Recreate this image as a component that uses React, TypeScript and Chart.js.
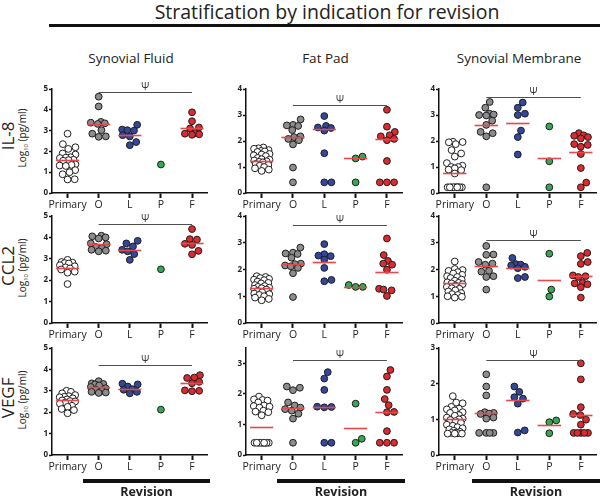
import React, { useEffect, useRef } from "react";
import { Chart, registerables } from "chart.js";
Chart.register(...registerables);

const categories = ["Primary", "O", "L", "P", "F"];
const tissues = ["Synovial Fluid", "Fat Pad", "Synovial Membrane"];
const markers = ["IL-8", "CCL2", "VEGF"];
const groupColors = ["#ffffff", "#8c8c8c", "#33489a", "#35a853", "#dc2a30"];

// ---- IL-8 ----
const sfIL8 = [
  [2.85, 2.35, 2.2, 2.12, 1.9, 1.85, 1.72, 1.7, 1.68, 1.6, 1.58, 1.55, 1.38, 1.35, 1.32, 1.3, 1.1, 1.0, 0.9, 0.66, 0.65],
  [4.63, 4.16, 3.42, 3.38, 3.35, 3.32, 3.02, 2.85, 2.72, 2.7],
  [3.28, 3.05, 3.02, 3.0, 2.78, 2.72, 2.45, 2.3],
  [1.37],
  [3.88, 3.45, 3.15, 3.1, 2.88, 2.85, 2.82, 2.8],
];
const sfIL8Median = [1.58, 3.3, 2.8, null, 3.12];

const fpIL8 = [
  [1.75, 1.72, 1.7, 1.65, 1.62, 1.6, 1.58, 1.5, 1.48, 1.45, 1.42, 1.35, 1.3, 1.28, 1.25, 1.22, 1.2, 1.18, 1.12, 1.08, 1.05, 1.0, 0.95, 0.9, 0.85],
  [2.83, 2.62, 2.6, 2.58, 2.42, 2.18, 2.15, 2.08, 2.03, 1.87, 0.98, 0.41],
  [2.96, 2.58, 2.52, 2.5, 2.4, 1.53, 0.41, 0.41],
  [1.4, 1.33, 0.41],
  [3.2, 2.55, 2.35, 2.22, 2.18, 2.08, 2.03, 1.23, 0.41, 0.41, 0.41],
];
const fpIL8Median = [1.24, 2.16, 2.46, 1.33, 2.08];

const smIL8 = [
  [1.97, 1.96, 1.95, 1.88, 1.65, 1.52, 1.4, 1.15, 1.05, 1.0, 1.0, 0.95, 0.9, 0.88, 0.75, 0.22, 0.22, 0.22, 0.22, 0.22, 0.22, 0.22, 0.22, 0.22, 0.22],
  [3.5, 3.28, 3.05, 3.02, 3.0, 2.98, 2.78, 2.62, 2.35, 2.3, 2.18, 0.22],
  [3.48, 3.28, 3.05, 3.0, 2.4, 2.15, 1.48],
  [2.56, 1.22, 0.22],
  [2.3, 2.22, 2.2, 2.15, 2.1, 1.88, 1.85, 1.78, 1.5, 0.96, 0.4, 0.22],
];
const smIL8Median = [0.78, 2.6, 2.68, 1.33, 1.58];

// ---- CCL2 ----
const sfCCL2 = [
  [2.95, 2.85, 2.82, 2.8, 2.78, 2.7, 2.65, 2.6, 2.55, 2.5, 2.4, 2.35, 1.82],
  [4.08, 4.05, 4.0, 3.95, 3.72, 3.68, 3.55, 3.5, 3.42, 3.38, 3.35],
  [3.84, 3.72, 3.58, 3.42, 3.35, 3.22, 2.95],
  [2.51],
  [4.39, 3.92, 3.9, 3.7, 3.65, 3.37, 3.21],
];
const sfCCL2Median = [2.58, 3.69, 3.42, null, 3.72];

const fpCCL2 = [
  [1.75, 1.72, 1.68, 1.65, 1.62, 1.6, 1.55, 1.5, 1.48, 1.42, 1.38, 1.35, 1.32, 1.3, 1.28, 1.25, 1.2, 1.15, 1.1, 1.08, 1.05, 1.0, 0.95, 0.9, 0.85],
  [2.82, 2.63, 2.6, 2.58, 2.44, 2.22, 2.2, 2.15, 2.12, 2.06, 1.86, 0.97],
  [2.95, 2.57, 2.52, 2.5, 2.37, 2.06, 1.61, 1.56],
  [1.42, 1.35, 1.35],
  [3.16, 2.54, 2.32, 2.22, 2.18, 1.99, 1.28, 1.25, 1.22, 1.01],
];
const fpCCL2Median = [1.3, 2.22, 2.28, 1.35, 1.92];

const smCCL2 = [
  [2.3, 2.02, 1.98, 1.95, 1.9, 1.85, 1.8, 1.75, 1.72, 1.68, 1.62, 1.58, 1.52, 1.5, 1.48, 1.45, 1.4, 1.35, 1.3, 1.28, 1.22, 1.18, 1.12, 1.08, 1.05, 1.0, 0.98, 0.95],
  [2.88, 2.56, 2.55, 2.28, 2.22, 2.18, 1.95, 1.92, 1.75, 1.72, 1.25],
  [2.43, 2.2, 2.18, 2.15, 2.1, 2.05, 1.72, 1.68],
  [2.59, 1.25, 0.99],
  [2.62, 2.5, 2.28, 2.21, 1.78, 1.75, 1.72, 1.5, 1.48, 1.45, 1.34, 0.95],
];
const smCCL2Median = [1.5, 2.13, 2.05, 1.59, 1.76];

// ---- VEGF ----
const sfVEGF = [
  [3.0, 2.95, 2.88, 2.8, 2.75, 2.72, 2.7, 2.65, 2.6, 2.55, 2.52, 2.5, 2.45, 2.4, 2.3, 2.25, 2.15, 2.1, 1.95],
  [3.45, 3.35, 3.32, 3.3, 3.25, 3.18, 3.12, 3.05, 3.0, 2.95, 2.92, 2.9],
  [3.33, 3.3, 3.2, 3.08, 3.05, 2.95, 2.88],
  [2.12],
  [3.73, 3.62, 3.6, 3.42, 3.35, 3.02, 3.0, 2.98],
];
const sfVEGFMedian = [2.55, 3.16, 3.08, null, 3.35];

const fpVEGF = [
  [1.91, 1.82, 1.8, 1.78, 1.72, 1.62, 1.6, 1.58, 1.55, 1.45, 1.42, 1.4, 1.3, 0.4, 0.4, 0.4, 0.4, 0.4, 0.4, 0.4, 0.4, 0.4, 0.4],
  [2.24, 2.2, 2.12, 1.72, 1.62, 1.55, 1.5, 1.45, 1.35, 1.19, 0.4],
  [2.71, 2.5, 2.13, 1.58, 1.57, 1.56, 0.4, 0.4],
  [1.68, 0.53, 0.4],
  [2.78, 2.57, 2.13, 1.83, 1.63, 1.41, 1.4, 0.78, 0.4, 0.4, 0.4],
];
const fpVEGFMedian = [0.93, 1.55, 1.57, 0.88, 1.4];

const smVEGF = [
  [1.65, 1.47, 1.45, 1.35, 1.3, 1.28, 1.25, 1.2, 1.18, 1.12, 1.1, 1.05, 1.02, 1.0, 0.98, 0.95, 0.9, 0.85, 0.82, 0.78, 0.75, 0.72, 0.68, 0.65, 0.63, 0.62, 0.61, 0.6, 0.6, 0.6],
  [2.26, 1.92, 1.67, 1.2, 1.18, 1.16, 1.15, 1.05, 1.02, 0.62, 0.62, 0.62, 0.62],
  [1.92, 1.77, 1.62, 1.58, 1.44, 0.69, 0.63],
  [0.97, 0.92, 0.61],
  [2.57, 2.12, 1.34, 1.15, 1.12, 0.99, 0.85, 0.62, 0.62, 0.62, 0.62, 0.62],
];
const smVEGFMedian = [1.0, 1.18, 1.55, 0.83, 1.13];

const panelGroups = [sfIL8, fpIL8, smIL8, sfCCL2, fpCCL2, smCCL2, sfVEGF, fpVEGF, smVEGF];
const panelMedians = [sfIL8Median, fpIL8Median, smIL8Median, sfCCL2Median, fpCCL2Median, smCCL2Median, sfVEGFMedian, fpVEGFMedian, smVEGFMedian];
const yAxisMax = [5, 4, 4, 5, 4, 4, 5, 3.5, 3];
const psiLevel = [4.85, 3.39, 3.7, 4.62, 3.67, 3.1, 4.2, 3.1, 2.65];

// ---- layout (pixels) ----
const colAxisX = [52, 246, 439];
const colEndX = [210, 405, 599];
const rowTopY = [89, 216, 348];
const rowBottomY = [193, 323, 455];
const YW = 18;
const PT = 10;
const PR = 2;
const XH = 24;
const FONT = '"Open Sans", "DejaVu Sans", sans-serif';

// beeswarm placement (layout only): returns x offsets in category units
function swarm(values: number[], pxPerY: number, pxPerX: number) {
  const D = 7.2;
  const half = 8;
  const idx = values.map((_, i) => i).sort((a, b) => values[a] - values[b]);
  const off = new Array(values.length).fill(0);
  const placed: { x: number; y: number }[] = [];
  for (const k of idx) {
    const py = values[k] * pxPerY;
    let best = 0;
    let bestScore = -1;
    let bestOk = false;
    for (let s = 0; s <= half * 2; s += 0.5) {
      for (const sign of [1, -1]) {
        const cx = s * sign * 0.5;
        if (s === 0 && sign === -1) continue;
        let md = Infinity;
        for (const p of placed) {
          const d = Math.hypot(p.x - cx, p.y - py);
          if (d < md) md = d;
        }
        const ok = md >= D;
        if (ok && !bestOk) {
          best = cx;
          bestOk = true;
          bestScore = md;
        } else if (!bestOk && md > bestScore + 0.3) {
          best = cx;
          bestScore = md;
        }
      }
      if (bestOk) break;
    }
    placed.push({ x: best, y: py });
    off[k] = best / pxPerX;
  }
  return off;
}

function Panel({ index }: { index: number }) {
  const ref = useRef<HTMLCanvasElement>(null);
  const row = Math.floor(index / 3);
  const col = index % 3;
  const axisX = colAxisX[col];
  const endX = colEndX[col];
  const topY = rowTopY[row];
  const botY = rowBottomY[row];
  const left = axisX - YW;
  const top = topY - PT;
  const width = endX - axisX + YW + PR;
  const height = botY - topY + PT + XH;

  useEffect(() => {
    const groups = panelGroups[index];
    const medians = panelMedians[index];
    const yMax = yAxisMax[index];
    const psi = psiLevel[index];
    const pxPerY = (botY - topY) / yMax;
    const pxPerX = (endX - axisX) / 5;
    const yTicks: number[] = [];
    for (let v = 0; v <= yMax + 1e-9; v += 1) yTicks.push(v);

    const datasets = groups.map((vals, g) => {
      const off = swarm(vals, pxPerY, pxPerX);
      return {
        label: categories[g],
        data: vals.map((v, i) => ({ x: g + off[i], y: v })),
        backgroundColor: groupColors[g],
        borderColor: "#1e1e1e",
        borderWidth: 1,
        pointRadius: 3.4,
        pointHoverRadius: 3.4,
      };
    });

    const overlay = {
      id: "overlay" + index,
      afterDatasetsDraw(chart: any) {
        const { ctx } = chart;
        const x = chart.scales.x;
        const y = chart.scales.y;
        ctx.save();
        ctx.strokeStyle = "#e8474c";
        ctx.lineWidth = 1.6;
        medians.forEach((m: number | null, g: number) => {
          if (m == null) return;
          const py = Math.round(y.getPixelForValue(m)) + 0.5;
          ctx.beginPath();
          ctx.moveTo(x.getPixelForValue(g - 0.37), py);
          ctx.lineTo(x.getPixelForValue(g + 0.37), py);
          ctx.stroke();
        });
        const py = Math.round(y.getPixelForValue(psi)) + 0.5;
        ctx.strokeStyle = "#505050";
        ctx.lineWidth = 1.2;
        ctx.beginPath();
        ctx.moveTo(x.getPixelForValue(1), py);
        ctx.lineTo(x.getPixelForValue(4), py);
        ctx.stroke();
        ctx.fillStyle = "#333";
        ctx.font = "10px " + FONT;
        ctx.textAlign = "center";
        ctx.textBaseline = "bottom";
        ctx.fillText("Ψ", x.getPixelForValue(2.5), py - 0.5);
        ctx.restore();
      },
    };

    const chart = new Chart(ref.current as HTMLCanvasElement, {
      type: "scatter",
      data: { datasets } as any,
      options: {
        responsive: false,
        animation: false,
        events: [],
        layout: { padding: { top: PT, right: PR, left: 0, bottom: 0 } },
        plugins: { legend: { display: false }, tooltip: { enabled: false }, title: { display: false } },
        scales: {
          x: {
            type: "linear",
            min: -0.5,
            max: 4.5,
            afterBuildTicks: (s: any) => {
              s.ticks = [0, 1, 2, 3, 4].map((v) => ({ value: v }));
            },
            afterFit: (s: any) => {
              s.height = XH;
            },
            ticks: {
              callback: (v: any) => categories[Math.round(Number(v))],
              font: { family: FONT, size: 10.5 },
              color: "#222",
              padding: 1,
              maxRotation: 0,
              autoSkip: false,
            },
            grid: { display: true, drawOnChartArea: false, drawTicks: true, tickLength: 5, tickWidth: 2, tickColor: "#111" },
            border: { display: true, color: "#111", width: 1.5 },
          },
          y: {
            type: "linear",
            min: 0,
            max: yMax,
            afterBuildTicks: (s: any) => {
              s.ticks = yTicks.map((v) => ({ value: v }));
            },
            afterFit: (s: any) => {
              s.width = YW;
            },
            ticks: {
              font: { family: FONT, size: 8, weight: "bold" },
              color: "#222",
              padding: 1,
            },
            grid: { display: true, drawOnChartArea: false, drawTicks: true, tickLength: 3, tickWidth: 1.5, tickColor: "#111" },
            border: { display: true, color: "#111", width: 1.5 },
          },
        },
      } as any,
      plugins: [overlay],
    });
    return () => chart.destroy();
  }, []);

  return (
    <canvas
      ref={ref}
      width={width}
      height={height}
      style={{ position: "absolute", left, top, width, height }}
    />
  );
}

function RotLabel({ text, cx, cy, size, sub }: { text: string; cx: number; cy: number; size: number; sub?: boolean }) {
  const w = 120;
  const h = size * 1.4;
  return (
    <div
      style={{
        position: "absolute",
        left: cx - w / 2,
        top: cy - h / 2,
        width: w,
        height: h,
        lineHeight: h + "px",
        textAlign: "center",
        fontSize: size,
        transform: "rotate(-90deg)",
        whiteSpace: "nowrap",
        color: "#222",
      }}
    >
      {sub ? (
        <span>
          Log<sub style={{ fontSize: size * 0.6, verticalAlign: "-2px", lineHeight: 0 }}>10</sub> (pg/ml)
        </span>
      ) : (
        text
      )}
    </div>
  );
}

export default function App() {
  useEffect(() => {
    document.body.style.margin = "0";
  }, []);
  const rowCenters = [136, 266, 398];
  const barStart = [83, 277, 472];
  const barEnd = [210, 405, 600];
  return (
    <div style={{ position: "relative", width: 600, height: 498, background: "#fff", fontFamily: FONT, color: "#222", overflow: "hidden" }}>
      <style>{"body{margin:0}"}</style>
      <div style={{ position: "absolute", left: 77, top: 0, width: 500, textAlign: "center", fontSize: 19.5, lineHeight: "24px" }}>
        Stratification by indication for revision
      </div>
      <div style={{ position: "absolute", left: 49, top: 24, width: 551, height: 3, background: "#111" }} />
      {tissues.map((t, c) => {
        const cx = (colAxisX[c] + colEndX[c]) / 2;
        return (
          <div key={t} style={{ position: "absolute", left: cx - 100, top: 49, width: 200, textAlign: "center", fontSize: 13.5, lineHeight: "18px" }}>
            {t}
          </div>
        );
      })}
      {markers.map((m, r) => (
        <React.Fragment key={m}>
          <RotLabel text={m} cx={8} cy={rowCenters[r]} size={17} />
          <RotLabel text="" cx={22} cy={rowCenters[r] + 2} size={10} sub />
        </React.Fragment>
      ))}
      {[0, 1, 2, 3, 4, 5, 6, 7, 8].map((i) => (
        <Panel key={i} index={i} />
      ))}
      {[0, 1, 2].map((c) => (
        <React.Fragment key={"rev" + c}>
          <div style={{ position: "absolute", left: barStart[c], top: 479, width: barEnd[c] - barStart[c], height: 4, background: "#111" }} />
          <div style={{ position: "absolute", left: (barStart[c] + barEnd[c]) / 2 - 60, top: 485, width: 120, textAlign: "center", fontSize: 12.5, fontWeight: "bold", lineHeight: "14px" }}>
            Revision
          </div>
        </React.Fragment>
      ))}
    </div>
  );
}
